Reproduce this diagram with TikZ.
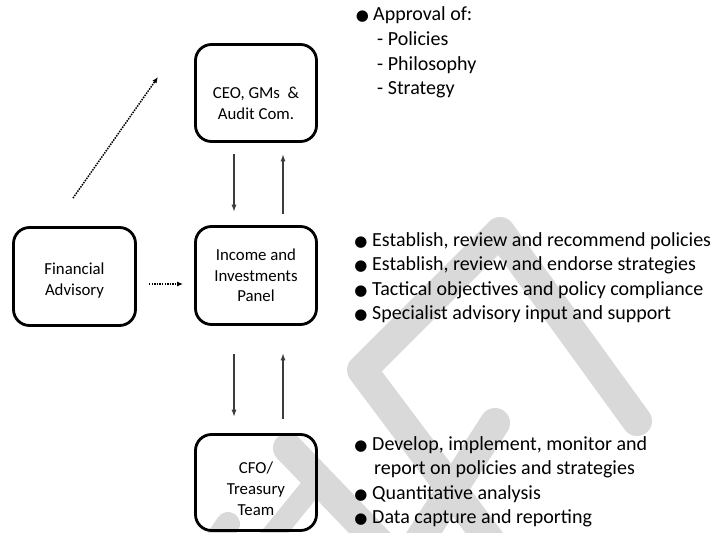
\documentclass[tikz,border=0pt]{standalone}
\usepackage{fontspec}
\setmainfont{Carlito}
\newfontfamily\symfont{DejaVu Sans}
\usetikzlibrary{arrows.meta}
\definecolor{wm}{RGB}{217,217,217}
\definecolor{ln}{RGB}{60,60,60}
\begin{document}
\begin{tikzpicture}[x=1pt,y=-1pt,
  wmk/.style={draw=wm,line width=30pt,line cap=round,line join=round},
  box/.style={draw=black,line width=2.8pt,rounded corners=16pt,minimum width=121pt,
    align=center,inner sep=0pt,font=\fontsize{16.8}{20.6}\selectfont},
  arr/.style={draw=ln,line width=1.2pt,-{Latex[length=7pt,width=5pt]}},
  dotarr/.style={draw=black,line width=1.5pt,dash pattern=on 1.5pt off 1.1pt,-{Latex[length=6pt,width=5pt]}},
  txt/.style={inner sep=0pt,anchor=base west,font=\fontsize{20}{24.5}\selectfont},
  bul/.style={inner sep=0pt,anchor=base,font=\symfont\fontsize{15}{15}\selectfont}]
\useasboundingbox (0,0) rectangle (721,533);
\fill[white] (0,0) rectangle (721,533);
% watermark
\begin{scope}
\clip (0,0) rectangle (721,533);
\draw[wmk] (637,421) -- (500,232) -- (362,370) -- (497,550);
\draw[wmk] (495,423) -- (413,550);
\draw[wmk] (288,448) -- (388,552);
\draw[wmk,line width=22pt] (319,478) -- (262,548);
\draw[wmk,line width=24pt] (228,524) -- (200,565);
\end{scope}
% boxes
\node[box,minimum height=97pt] (ceo) at (256,93) {\rule{0pt}{32pt}CEO, GMs~~\&\\Audit Com.};
\node[box,minimum height=98pt] (inc) at (256,275.5) {Income and\\Investments\\Panel};
\node[box,minimum height=98pt,minimum width=122pt] (fin) at (74.5,276.5) {\rule{0pt}{20pt}Financial\\Advisory};
\node[box,minimum height=96pt] (cfo) at (256,482.5) {\rule{0pt}{24pt}CFO/\\Treasury\\Team};
% connectors
\draw[arr] ([shift={(-22,11.4)}]ceo.south) -- ([shift={(-22,-13.4)}]inc.north);
\draw[arr] ([shift={(27,-11.4)}]inc.north) -- ([shift={(27,11.4)}]ceo.south);
\draw[arr] ([shift={(-22,28.4)}]inc.south) -- ([shift={(-22,-16.4)}]cfo.north);
\draw[arr] ([shift={(27,-14.4)}]cfo.north) -- ([shift={(27,27.4)}]inc.south);
\coordinate (dtip) at (158,77);
\draw[dotarr] ([shift={(-1.5,-28)}]fin.north) -- (dtip);
\draw[dotarr] ([shift={(12,7.5)}]fin.east) -- ([shift={(-11,8.5)}]inc.west);
% top list
\node[bul] (b1) at (362.5,20.5) {●};
\node[txt] (t1) at (373,20.5) {Approval of:};
\node[txt] (t2) at (377,45.3) {- Policies};
\node[txt] (t3) at (377,70.1) {- Philosophy};
\node[txt] (t4) at (377,94.9) {- Strategy};
% middle list
\node[bul] (b5) at (361,246) {●};
\node[txt] (t5) at (372,246) {Establish, review and recommend policies};
\node[bul] (b6) at (361,270.5) {●};
\node[txt] (t6) at (372,270.5) {Establish, review and endorse strategies};
\node[bul] (b7) at (361,295) {●};
\node[txt] (t7) at (372,295) {Tactical objectives and policy compliance};
\node[bul] (b8) at (361,319.5) {●};
\node[txt] (t8) at (372,319.5) {Specialist advisory input and support};
% bottom list
\node[bul] (b9) at (361,450) {●};
\node[txt] (t9) at (372,450) {Develop, implement, monitor and};
\node[txt] (t10) at (374,474.5) {report on policies and strategies};
\node[bul] (b11) at (361,499) {●};
\node[txt] (t11) at (372,499) {Quantitative analysis};
\node[bul] (b12) at (361,523.5) {●};
\node[txt] (t12) at (372,523.5) {Data capture and reporting};
\end{tikzpicture}
\end{document}
